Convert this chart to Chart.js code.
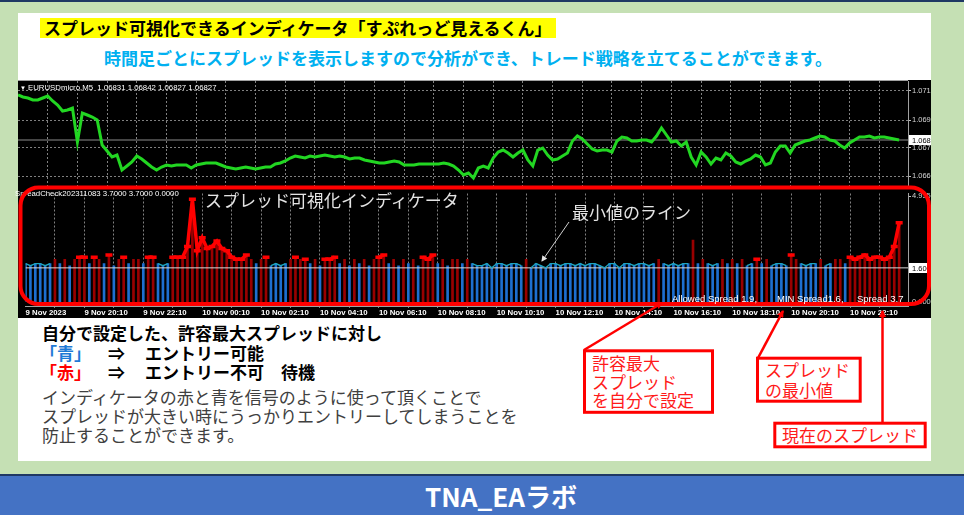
<!DOCTYPE html>
<html><head><meta charset="utf-8">
<script src="https://cdn.jsdelivr.net/npm/chart.js@4.4.0/dist/chart.umd.min.js"></script>
<style>
body{margin:0;width:964px;height:515px;background:#c5e0b4;position:relative;overflow:hidden;font-family:"Noto Sans CJK JP",sans-serif;}
.abs{position:absolute;white-space:nowrap;}
.jp{font-family:"Noto Sans CJK JP",sans-serif;font-size:17px;line-height:20px;}
.mt{font-family:"Liberation Sans",Arial,sans-serif;color:#fff;}
.red{color:#ff1a1a;}
</style></head><body>
<div class="abs" style="left:0;top:0;width:964px;height:2px;background:#1f3864"></div>
<div class="abs" style="left:18px;top:13px;width:913px;height:448px;background:#fff"></div>
<div class="abs jp" style="left:40px;top:18px;height:20px;width:512px;padding-left:4px;background:#ffff00;font-weight:bold;color:#000">スプレッド可視化できるインディケータ「すぷれっど見えるくん」</div>
<div class="abs jp" style="left:104px;top:48px;font-weight:bold;color:#00b0f0">時間足ごとにスプレッドを表示しますので分析ができ、トレード戦略を立てることができます。</div>

<div class="abs" style="left:18px;top:80px;width:913px;height:238px;background:#000"></div>
<canvas id="price" class="abs" style="left:18px;top:80px" width="913" height="106"></canvas>
<canvas id="spread" class="abs" style="left:18px;top:186px" width="913" height="132"></canvas>
<div class="abs" style="left:18px;top:80px;width:890px;height:1px;background:#a0a0a0"></div>

<div class="abs mt" style="left:20px;top:83px;font-size:6px;line-height:10px">▼</div>
<div class="abs mt" style="left:28px;top:83px;font-size:7.8px;line-height:10px">EURUSDmicro,M5&nbsp; 1.06831 1.06842 1.06827 1.06827</div>
<div class="abs mt" style="left:15px;top:189px;font-size:7.8px;line-height:10px">SpreadCheck202311083 3.7000 3.7000 0.0000</div>
<div class="abs jp" style="left:205px;top:190px;color:#e4e4e4">スプレッド可視化インディケータ</div>
<div class="abs jp" style="left:572px;top:202px;color:#e4e4e4">最小値のライン</div>

<div class="abs jp" style="left:42px;top:323px;font-weight:bold;color:#000">自分で設定した、許容最大スプレッドに対し</div>
<div class="abs jp" style="left:40px;top:343px;font-weight:bold;color:#1f7ad6">「青」</div>
<div class="abs jp" style="left:108px;top:343px;font-weight:bold;color:#000">⇒</div>
<div class="abs jp" style="left:145px;top:343px;font-weight:bold;color:#000">エントリー可能</div>
<div class="abs jp" style="left:40px;top:362px;font-weight:bold;color:#ff0000">「赤」</div>
<div class="abs jp" style="left:108px;top:362px;font-weight:bold;color:#000">⇒</div>
<div class="abs jp" style="left:145px;top:362px;font-weight:bold;color:#000">エントリー不可　待機</div>
<div class="abs jp" style="left:42px;top:387px;color:#404040">インディケータの赤と青を信号のように使って頂くことで</div>
<div class="abs jp" style="left:42px;top:406px;color:#404040">スプレッドが大きい時にうっかりエントリーしてしまうことを</div>
<div class="abs jp" style="left:42px;top:425px;color:#404040">防止することができます。</div>

<div class="abs jp red" style="left:592px;top:353px">許容最大</div>
<div class="abs jp red" style="left:592px;top:372px">スプレッド</div>
<div class="abs jp red" style="left:592px;top:390px">を自分で設定</div>
<div class="abs jp red" style="left:765px;top:360px">スプレッド</div>
<div class="abs jp red" style="left:765px;top:380px">の最小値</div>
<div class="abs jp red" style="left:782px;top:425px">現在のスプレッド</div>

<svg class="abs" style="left:0;top:0" width="964" height="515">
<defs>
<marker id="ah" markerWidth="7" markerHeight="7" refX="6" refY="3.5" orient="auto" markerUnits="userSpaceOnUse"><path d="M0,0 L7,3.5 L0,7 z" fill="#ff0000"/></marker>
<marker id="aw" markerWidth="6" markerHeight="6" refX="5" refY="3" orient="auto" markerUnits="userSpaceOnUse"><path d="M0,0 L6,3 L0,6 z" fill="#e6e6e6"/></marker>
</defs>
<rect x="20.5" y="187.5" width="908.5" height="116.5" rx="18" fill="none" stroke="#ff0000" stroke-width="4"/>
<line x1="569" y1="222" x2="542" y2="261" stroke="#d0d0d0" stroke-width="1" marker-end="url(#aw)"/>
<line x1="584" y1="350" x2="662" y2="303" stroke="#ff0000" stroke-width="2.5" marker-end="url(#ah)"/>
<rect x="584.5" y="350.8" width="128" height="61.5" fill="none" stroke="#ff0000" stroke-width="3"/>
<line x1="758" y1="358" x2="783" y2="311" stroke="#ff0000" stroke-width="2.5" marker-end="url(#ah)"/>
<rect x="757.5" y="358.2" width="102.7" height="43" fill="none" stroke="#ff0000" stroke-width="3"/>
<line x1="882.5" y1="423" x2="882.5" y2="311" stroke="#ff0000" stroke-width="2.5" marker-end="url(#ah)"/>
<rect x="774.8" y="423.2" width="150.4" height="23.6" fill="none" stroke="#ff0000" stroke-width="3"/>
</svg>

<div class="abs mt" id="st1" style="left:672px;top:293px;font-size:9.5px;line-height:11px"></div>
<div class="abs mt" id="st2" style="left:777px;top:293px;font-size:9.5px;line-height:11px"></div>
<div class="abs mt" id="st3" style="left:857px;top:293px;font-size:9.5px;line-height:11px"></div>

<div class="abs" style="left:0;top:474px;width:964px;height:2px;background:#1f3864"></div>
<div class="abs" style="left:0;top:476px;width:964px;height:39px;background:#4472c4"></div>
<div class="abs" style="left:0;top:479px;width:1002px;text-align:center;font-family:'Noto Sans CJK JP',sans-serif;font-weight:bold;font-size:26px;line-height:34px;color:#fff">TNA_EAラボ</div>

<script>
// ---- data ----
const ALLOWED = 1.9;
const MIN_SPREAD = 1.6;
const CUR_SPREAD = 3.7;
const currentPrice = 1.06827;

const closes = [
1.07097,1.07085,1.07079,1.07067,1.07067,1.07079,1.07091,1.07061,1.07037,1.07001,
1.07007,1.07019,1.06815,1.06989,1.06977,1.06965,1.06947,1.06797,1.06761,1.06725,
1.06737,1.06647,1.06671,1.06695,1.06731,1.06713,1.06689,1.06665,1.06647,1.06665,
1.06677,1.06671,1.06677,1.06677,1.06677,1.06659,1.06677,1.06683,1.06689,1.06689,
1.06689,1.06677,1.06665,1.06659,1.06653,1.06659,1.06665,1.06659,1.06653,1.06659,
1.06665,1.06665,1.06683,1.06689,1.06701,1.06719,1.06731,1.06725,1.06719,1.06731,
1.06725,1.06731,1.06737,1.06731,1.06725,1.06731,1.06725,1.06713,1.06719,1.06719,
1.06707,1.06701,1.06695,1.06689,1.06689,1.06695,1.06701,1.06695,1.06677,1.06677,
1.06677,1.06683,1.06683,1.06683,1.06683,1.06683,1.06689,1.06683,1.06671,1.06647,
1.06617,1.06629,1.06599,1.06659,1.06671,1.06659,1.06719,1.06755,1.06767,1.06749,
1.06725,1.06749,1.06767,1.06707,1.06671,1.06767,1.06779,1.06737,1.06707,1.06713,
1.06731,1.06749,1.06821,1.06851,1.06833,1.06803,1.06773,1.06761,1.06767,1.06767,
1.06755,1.06821,1.06845,1.06839,1.06821,1.06821,1.06827,1.06827,1.06815,1.06851,
1.06899,1.06857,1.06815,1.06821,1.06791,1.06815,1.06725,1.06677,1.06755,1.06725,
1.06683,1.06719,1.06707,1.06749,1.06731,1.06695,1.06683,1.06701,1.06713,1.06737,
1.06725,1.06677,1.06689,1.06755,1.06791,1.06791,1.06749,1.06797,1.06809,1.06821,
1.06827,1.06839,1.06851,1.06845,1.06827,1.06821,1.06797,1.06779,1.06809,1.06827,
1.06845,1.06845,1.06851,1.06839,1.06845,1.06845,1.06839,1.06833,1.06827];

const spread = [
1.8,1.7,1.8,1.8,1.7,1.8,2.0,1.8,2.0,1.7,
2.0,2.1,2.1,1.8,2.1,2.0,1.8,2.2,1.7,2.0,
2.1,1.8,2.0,2.0,1.8,2.1,2.1,1.8,1.7,1.8,
2.1,2.1,2.1,2.6,4.8,2.4,3.0,2.5,2.6,2.85,
2.5,2.4,2.1,2.0,2.0,2.2,2.0,1.8,2.0,2.1,
1.7,1.8,1.7,1.8,2.0,2.1,2.0,2.0,1.8,2.0,
1.7,2.0,2.0,2.1,1.8,2.0,1.7,2.0,1.8,2.0,
1.7,2.0,2.1,2.2,1.8,2.0,1.7,2.0,1.8,2.0,
1.7,2.1,2.0,2.2,1.8,2.0,1.7,2.0,2.0,1.8,
2.0,1.8,1.7,1.7,1.8,1.6,1.8,1.8,1.7,1.8,
1.8,1.7,2.0,1.6,1.8,1.7,1.6,1.8,1.8,1.7,
1.8,1.8,1.7,1.8,1.7,1.8,1.8,1.7,1.6,1.8,
1.8,1.6,1.8,1.8,1.7,1.8,1.8,1.7,1.8,2.0,
1.8,1.7,1.8,1.7,1.8,1.8,2.9,1.8,2.0,1.8,
1.7,1.8,2.0,1.8,2.0,1.8,2.0,1.7,1.8,2.0,
1.8,2.0,1.7,1.8,1.8,1.7,2.2,2.0,1.8,1.7,
1.8,1.8,2.0,1.7,1.8,2.0,2.0,1.8,2.1,2.0,
2.1,2.2,2.0,2.1,2.1,2.0,2.1,2.6,3.7];

// bars over which the indicator's red signal line is drawn
const redLineBars = [11,12,14,17,20,25,26,30,31,32,33,34,35,36,37,38,39,40,41,42,43,44,45,
  49,55,57,61,62,63,72,73,81,82,83,149,156,168,169,170,171,172,173,174,175,176,177,178];

const priceTickVals = [1.07121, 1.06947, 1.06779, 1.06611];
const priceTickLabels = ['1.071', '1.069', '1.067', '1.066'];
const spreadTickVals = [4.935, 1.6, 0];
const spreadTickLabels = ['4.935', '1.600', '0.000'];
const gridIdx = [0,6,12,18,24,30,36,42,48,54,60,66,72,78,84,90,96,102,108,114,120,126,132,138,144,150,156,162,168,174];
const timeTickIdx = [0,12,24,36,48,60,72,84,96,108,120,132,144,156,168];
const timeTickLabels = ['9 Nov 2023','9 Nov 20:10','9 Nov 22:10','10 Nov 00:10','10 Nov 02:10','10 Nov 04:10',
  '10 Nov 06:10','10 Nov 08:10','10 Nov 10:10','10 Nov 12:10','10 Nov 14:10','10 Nov 16:10','10 Nov 18:10',
  '10 Nov 20:10','10 Nov 22:10'];

// ---- layout / style ----
const X_MIN = 0, X_MAX = 179.8;
const P_MIN = 1.06551, P_MAX = 1.07181;
const S_MIN = -0.178, S_MAX = 5.067;
const GRID = 'rgba(150,150,150,0.85)';
const AXIS_TXT = '#d4d4d4';
const MTFONT = 'Liberation Sans';

document.getElementById('st1').textContent = 'Allowed Spread  ' + ALLOWED + ',';
document.getElementById('st2').textContent = 'MIN Spread' + MIN_SPREAD + ',';
document.getElementById('st3').textContent = 'Spread ' + CUR_SPREAD;

const noPad = s => { s.paddingTop = 0; s.paddingBottom = 0; s.paddingLeft = 0; s.paddingRight = 0; };

function valueBox(val, label) {
  return {
    id: 'vbox',
    afterDraw(chart) {
      const {ctx, chartArea, scales: {y}} = chart;
      const py = Math.round(y.getPixelForValue(val));
      ctx.save();
      ctx.fillStyle = '#ffffff';
      ctx.fillRect(chartArea.right + 1, py - 5, chart.width - chartArea.right - 1, 10);
      ctx.fillStyle = '#000';
      ctx.font = '7.5px "' + MTFONT + '"';
      ctx.textBaseline = 'middle';
      ctx.textAlign = 'left';
      ctx.fillText(label, chartArea.right + 4, py + 0.5);
      ctx.restore();
    }
  };
}

const xGridColor = c => (c.tick && c.tick.value === 0) ? 'rgba(0,0,0,0)' : GRID;

new Chart(document.getElementById('price'), {
  type: 'line',
  data: {
    datasets: [
      { data: closes.map((v, i) => ({x: i, y: v})), borderColor: '#22d622', borderWidth: 3,
        pointRadius: 0, tension: 0, order: 0 },
      { data: [{x: X_MIN, y: currentPrice}, {x: X_MAX, y: currentPrice}], borderColor: '#8c8c8c',
        borderWidth: 1, pointRadius: 0, order: 1 }
    ]
  },
  options: {
    responsive: false, animation: false, events: [],
    layout: {padding: {top: 1, left: 0, right: 0, bottom: 0}},
    plugins: {legend: {display: false}, tooltip: {enabled: false}},
    scales: {
      x: {
        type: 'linear', min: X_MIN, max: X_MAX, offset: false,
        afterBuildTicks: s => { s.ticks = gridIdx.map(v => ({value: v})); },
        ticks: {display: false},
        grid: {color: xGridColor, drawTicks: false, offset: false},
        border: {display: false, dash: [2, 2]},
        afterFit: s => { s.height = 0; noPad(s); }
      },
      y: {
        position: 'right', min: P_MIN, max: P_MAX,
        afterBuildTicks: s => { s.ticks = priceTickVals.map(v => ({value: v})); },
        ticks: {callback: (v, i) => priceTickLabels[i], color: AXIS_TXT, font: {size: 7.5, family: MTFONT}, padding: 1},
        grid: {color: GRID, tickLength: 3, tickColor: '#c0c0c0'},
        border: {color: '#a0a0a0', dash: [2, 2]},
        afterFit: s => { s.width = 23; noPad(s); }
      }
    }
  },
  plugins: [valueBox(currentPrice, currentPrice.toFixed(5).slice(0, 5))]
});

const barPts = spread.map((v, i) => ({x: i, y: v}));
const cyanPts = spread.map((v, i) => ({x: i, y: v <= ALLOWED ? v : null}));
const redPts = spread.map((v, i) => ({x: i, y: redLineBars.includes(i) ? v : null}));

new Chart(document.getElementById('spread'), {
  type: 'bar',
  data: {
    datasets: [
      { type: 'line', data: redPts, borderColor: '#ff0000', borderWidth: 3.5, pointStyle: 'line',
        pointRadius: 3.5, pointBorderWidth: 3.5, pointBorderColor: '#ff0000', spanGaps: false, order: 0 },
      { type: 'line', data: cyanPts, borderColor: '#1ea6bf', borderWidth: 1.3, pointRadius: 0, spanGaps: false, order: 1 },
      { type: 'line', data: [{x: X_MIN, y: MIN_SPREAD}, {x: X_MAX, y: MIN_SPREAD}], borderColor: '#d8d8d8',
        borderWidth: 1, pointRadius: 0, order: 2 },
      { type: 'bar', data: barPts, backgroundColor: spread.map(v => v > ALLOWED ? '#990000' : '#1d6fd0'),
        barThickness: 2, order: 3 }
    ]
  },
  options: {
    responsive: false, animation: false, events: [],
    layout: {padding: {top: 2, left: 0, right: 0, bottom: 0}},
    plugins: {legend: {display: false}, tooltip: {enabled: false}},
    scales: {
      x: {
        type: 'linear', min: X_MIN, max: X_MAX, offset: false,
        afterBuildTicks: s => { s.ticks = gridIdx.map(v => ({value: v})); },
        ticks: {
          autoSkip: false, maxRotation: 0, align: 'start', padding: 0,
          color: '#ffffff', font: {size: 7.8, family: MTFONT, weight: 'bold'},
          callback: v => { const k = timeTickIdx.indexOf(v); return k >= 0 ? timeTickLabels[k] : ''; }
        },
        grid: {color: xGridColor, tickLength: 2, offset: false},
        border: {color: '#a0a0a0', dash: [2, 2]},
        afterFit: s => { s.height = 12; noPad(s); }
      },
      y: {
        position: 'right', min: S_MIN, max: S_MAX,
        afterBuildTicks: s => { s.ticks = spreadTickVals.map(v => ({value: v})); },
        ticks: {callback: (v, i) => spreadTickLabels[i], color: AXIS_TXT, font: {size: 7.5, family: MTFONT}, padding: 1},
        grid: {drawOnChartArea: false, tickLength: 3, color: '#c0c0c0'},
        border: {color: '#a0a0a0'},
        afterFit: s => { s.width = 23; noPad(s); }
      }
    }
  },
  plugins: [valueBox(MIN_SPREAD, MIN_SPREAD.toFixed(3))]
});
</script>
</body></html>
